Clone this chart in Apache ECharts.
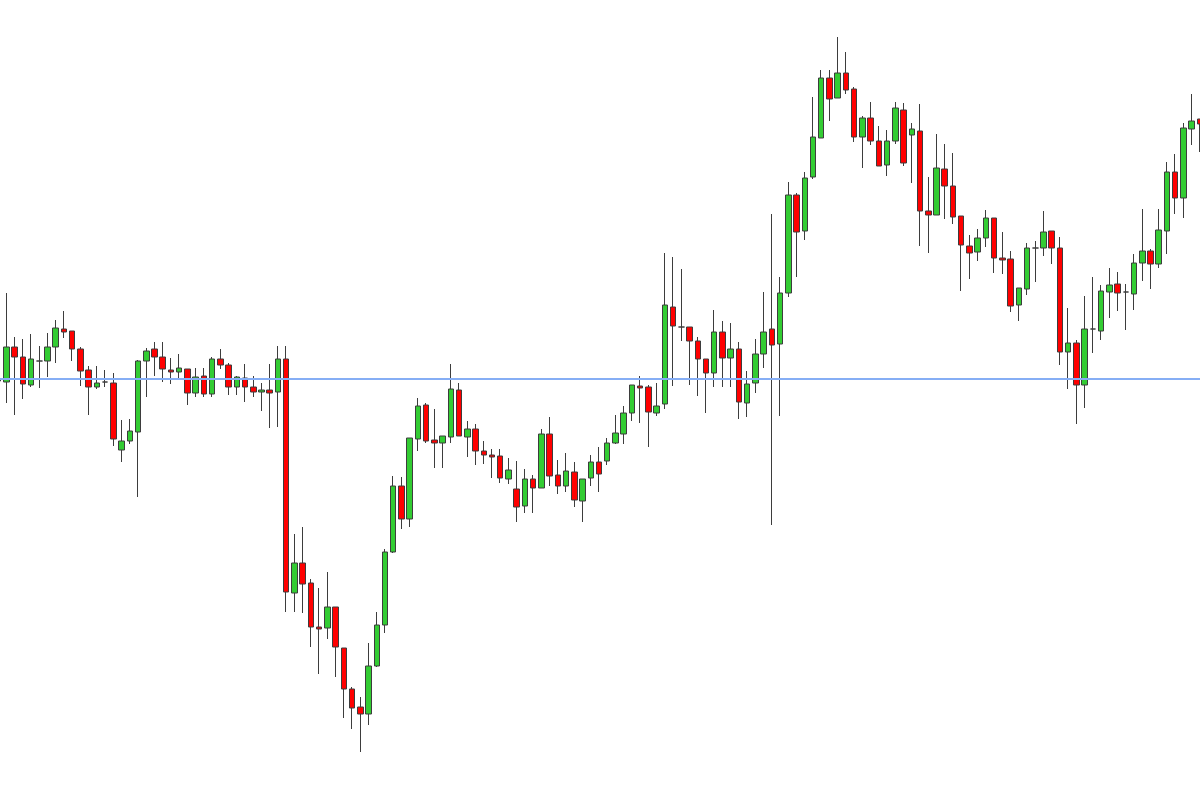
<!DOCTYPE html>
<html><head><meta charset="utf-8">
<style>html,body{margin:0;padding:0;background:#fff;overflow:hidden;width:1200px;height:805px;position:relative}#c{position:absolute;left:-6.4px;top:0;width:1209.8px;height:805px}</style>
<script src="https://cdn.jsdelivr.net/npm/echarts@6/dist/echarts.min.js"></script>
</head><body><div id="c"></div><script>
const opens = [425,423,458,448,420,444,444,458,476,474,
456,435,418,423,422,355,364,373,444,456,
448,435,433,436,412,429,411,446,440,418,
427,418,413,415,413,446,212,242,222,178,
177,198,157,116,98,91,139,180,253,319,
286,366,400,365,362,368,415,368,376,354,
350,349,326,316,299,326,317,371,330,319,
333,304,327,343,344,362,371,392,419,418,
392,401,498,478,478,464,446,432,473,447,
456,402,422,451,476,461,512,610,574,628,
667,727,707,732,716,668,687,664,640,664,
695,670,674,594,590,636,619,589,559,553,
567,587,547,546,500,516,557,557,574,557,
453,462,420,476,474,513,521,513,511,542,
554,541,574,633,607,676,686];
const closes = [424,458,448,421,446,444,458,477,473,456,
434,418,422,423,366,364,374,444,454,448,
436,433,437,412,428,411,446,440,418,428,
418,413,415,412,446,213,242,221,178,176,
198,158,116,97,91,139,180,253,319,286,
367,399,364,362,369,416,369,376,354,350,
348,327,335,298,326,317,371,329,319,334,
305,326,343,331,362,372,392,420,417,393,
399,500,479,478,464,446,432,473,447,456,
403,421,451,473,460,512,610,573,627,668,
727,706,732,715,668,687,664,639,664,697,
642,676,594,590,637,619,588,560,552,567,
587,547,545,499,517,557,557,573,557,453,
462,420,476,476,514,520,512,513,542,554,
541,575,633,607,677,684,681];
const lows = [421,402,390,406,418,417,428,442,467,444,
419,390,416,418,359,343,361,308,408,429,
423,421,425,400,408,408,408,436,410,410,
403,408,394,377,378,193,193,192,158,131,
166,128,87,76,53,80,138,172,252,276,
278,354,362,337,337,362,369,348,340,341,
327,322,321,283,292,292,317,319,311,313,
298,283,319,313,340,361,361,384,382,358,
389,396,419,464,420,409,392,418,418,418,
386,388,412,437,280,389,508,528,565,626,
667,684,707,711,663,637,660,639,629,661,
639,622,559,552,590,586,581,514,526,544,
558,532,531,493,484,510,523,549,541,440,
416,381,397,452,465,487,494,475,495,524,
516,537,551,591,587,660,653];
const highs = [429,512,468,466,471,459,472,485,494,474,
458,439,439,435,432,385,386,445,457,463,
463,447,451,436,437,437,448,456,442,429,
441,429,422,441,459,459,271,278,226,217,
233,198,157,118,108,162,193,256,329,328,
367,407,402,396,369,441,422,384,381,364,
356,356,347,344,336,330,376,388,345,352,
343,326,350,358,367,390,399,420,429,420,
422,552,548,536,478,468,446,495,484,482,
463,434,466,513,591,528,623,612,633,708,
735,735,768,753,718,689,703,679,675,703,
702,682,701,628,671,661,652,589,570,576,
595,587,573,554,517,562,564,594,574,568,
497,465,509,528,520,537,533,521,551,596,
556,596,643,651,682,711,686];
const refLevel = 426.5;
const categories = opens.map((_, i) => 'Bar ' + (i + 1));
const candles = opens.map((o, i) => [o, closes[i], lows[i], highs[i]]);

const chart = echarts.init(document.getElementById('c'), null, {renderer: 'canvas'});
chart.setOption({
  animation: false,
  backgroundColor: '#ffffff',
  grid: {left: 0, right: 0, top: 0, bottom: 0, containLabel: false},
  xAxis: {type: 'category', data: categories, show: false, boundaryGap: true},
  yAxis: {type: 'value', min: 0, max: 805, show: false},
  series: [{
    type: 'candlestick',
    data: candles,
    barWidth: 6,
    itemStyle: {color: '#33cc33', color0: '#ff0000', borderColor: '#3d3d3d', borderColor0: '#3d3d3d', borderWidth: 1},
    markLine: {
      symbol: 'none', silent: true, label: {show: false},
      lineStyle: {color: '#86aef5', width: 2, type: 'solid'},
      data: [{yAxis: refLevel}]
    }
  }]
});
</script></body></html>
